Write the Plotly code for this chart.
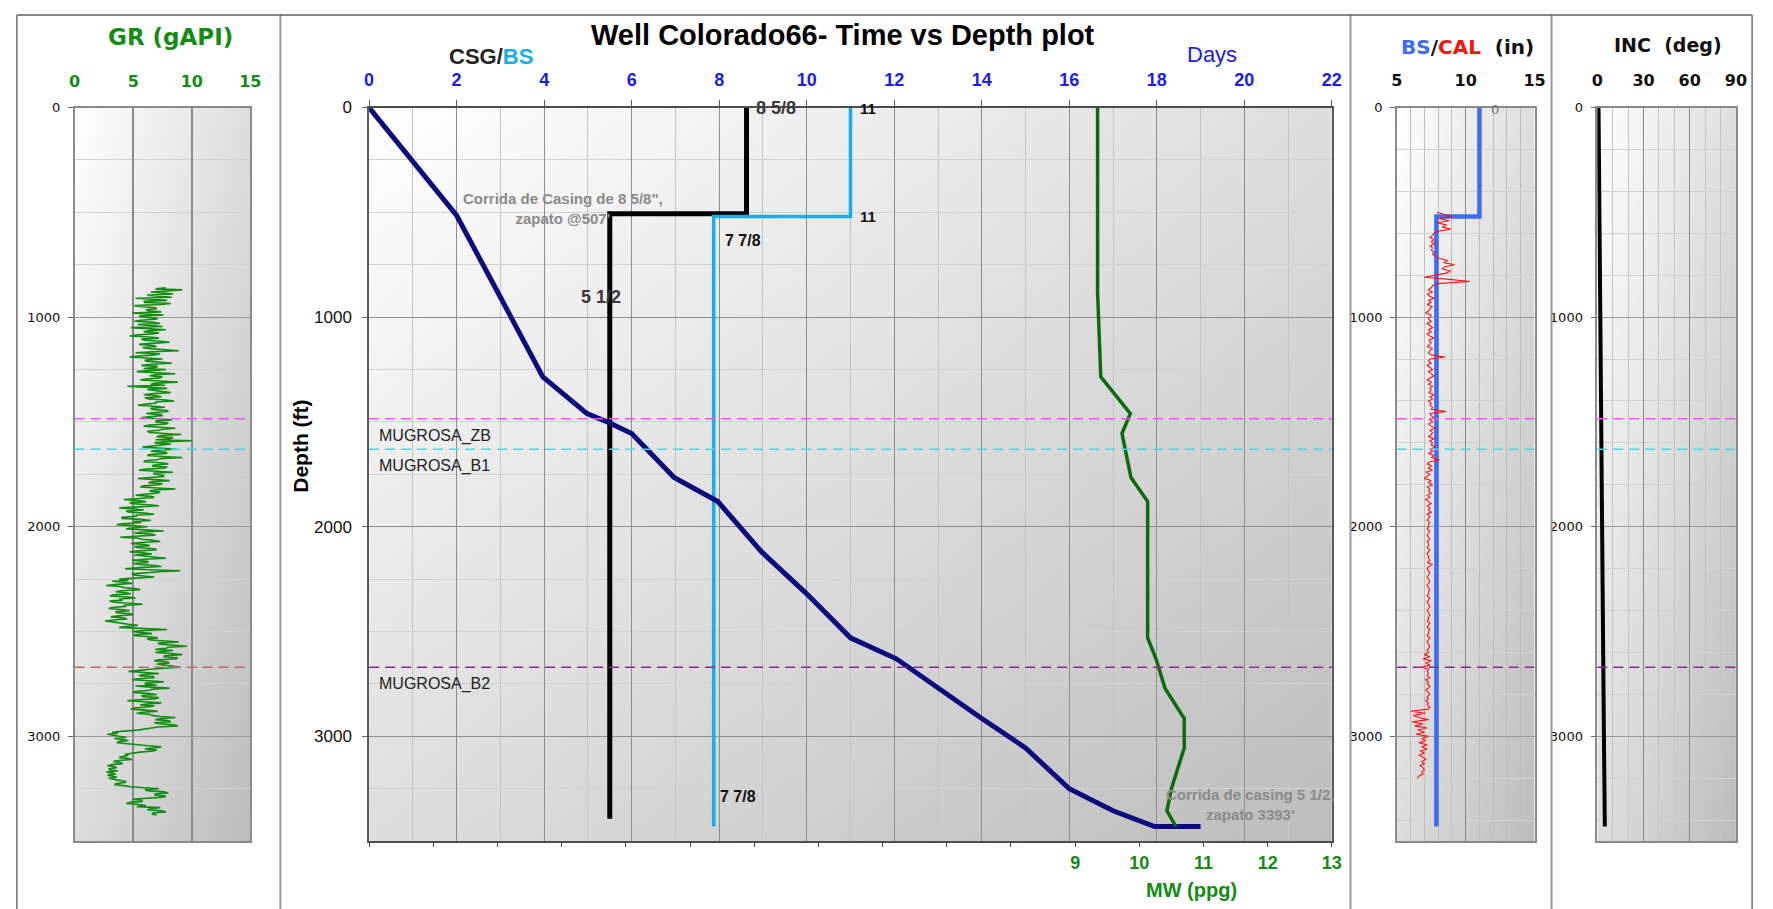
import base64
import plotly.graph_objects as go

FIG_W, FIG_H = 1773, 909

# ---------------- data ----------------
# Drilling progress: days on location vs measured depth
PROG_DEPTH_FT = [0, 515, 885, 1285, 1460, 1505, 1555, 1765, 1880, 2120, 2320,
                 2530, 2630, 2770, 2915, 3055, 3250, 3355, 3430, 3430]
PROG_DAYS = [0, 2.0, 2.95, 3.97, 4.98, 5.5, 6.0, 6.97, 7.97, 8.97, 10.0,
             11.0, 12.05, 13.0, 14.0, 15.0, 16.0, 17.0, 17.95, 19.0]

# Mud weight vs depth
MW_DEPTH_FT = [0, 515, 885, 1285, 1460, 1555, 1765, 1880, 2120, 2320,
               2530, 2630, 2770, 2915, 3055, 3250, 3355, 3430]
MW_PPG = [9.35, 9.35, 9.35, 9.40, 9.86, 9.73, 9.87, 10.13, 10.13, 10.13,
          10.13, 10.26, 10.40, 10.70, 10.70, 10.50, 10.43, 10.57]

# Casing and bit size programme (inches)
CSG_DEPTH_FT = [0, 507, 507, 3393]
CSG_IN = [8.625, 8.625, 5.5, 5.5]
BS_DEPTH_FT = [0, 520, 520, 3430]
BS_IN = [11, 11, 7.875, 7.875]

# Size labels on the casing / bit size curves
CSG_LABEL_TEXT = ["8 5/8", "5 1/2"]
CSG_LABEL_X = [9.29, 5.30]
CSG_LABEL_DEPTH = [3, 905]
BS_LABEL_TEXT = ["11", "11", "7 7/8", "7 7/8"]
BS_LABEL_X = [11.39, 11.39, 8.55, 8.43]
BS_LABEL_DEPTH = [3, 522, 636, 3285]

# Formation tops
TOP_NAMES = ["MUGROSA_ZB", "MUGROSA_B1", "MUGROSA_B2"]
TOP_DEPTH_FT = [1485, 1630, 2670]

# Inclination survey
INC_DEPTH_FT = [0, 500, 1000, 1500, 2000, 2500, 3000, 3430]
INC_DEG = [0.8, 1.5, 2.1, 2.7, 3.2, 3.7, 4.3, 4.9]

# Gamma ray log, 5 ft sampling from GR_TOP_FT
GR_TOP_FT = 860
GR_STEP_FT = 5
GR_API = [
    7.8, 6.9, 9.2, 8.0, 6.5, 7.7, 8.4, 6.2, 7.1, 8.3,
    5.2, 6.6, 7.9, 5.9, 6.0, 8.2, 7.4, 5.1, 5.6, 6.9, 7.0, 6.1,
    6.3, 7.4, 4.9, 6.0, 7.6, 5.5, 5.8, 7.1,
    6.9, 5.6, 5.1, 6.8, 7.3, 5.4, 6.2, 7.5, 4.8, 6.1, 7.8, 6.3,
    5.9, 7.2, 6.6, 5.2, 4.7, 6.4, 7.2, 5.7, 6.0, 7.4, 8.1, 6.5,
    5.5, 6.7, 7.0, 5.8, 6.3, 7.6, 8.9, 6.6, 5.2, 7.3, 6.8, 5.6, 4.7, 6.2, 7.5, 6.0,
    6.1, 7.4, 8.3, 6.5, 5.7, 7.1, 6.9, 5.9, 7.8, 6.4, 5.3, 7.0, 8.6, 6.8, 6.4, 7.5,
    7.2, 6.1, 5.6, 7.3, 8.8, 6.9, 6.5, 7.7, 4.5, 6.3, 7.9, 6.2, 6.8, 7.6, 8.2, 6.7,
    5.9, 7.0, 7.4, 6.0, 6.3, 7.8, 8.5, 6.9, 7.0, 6.1, 5.4, 6.8, 7.7, 6.5, 6.6, 7.9,
    8.0, 6.9, 6.1, 7.4, 7.5, 6.3, 5.7, 7.2, 8.3, 7.0, 6.9, 8.0, 7.8, 6.4, 5.9, 7.3,
    8.6, 7.5, 7.2, 6.2, 6.4, 7.7, 9.1, 7.4, 7.0, 8.4, 8.1, 6.9, 10.0, 7.6, 6.8, 8.2,
    7.4, 6.5, 5.8, 7.2, 8.7, 7.0, 6.5, 7.8, 7.9, 6.4, 6.2, 7.5, 9.2, 7.3, 7.1,
    6.0, 5.9, 7.4, 8.0, 6.8, 6.6, 7.9, 7.7, 6.1, 5.5, 7.0, 8.4, 6.7, 6.9, 7.6,
    7.6, 6.4, 5.4, 6.9, 8.1, 6.6, 6.3, 7.5, 7.2, 5.9, 5.6,
    7.1, 8.6, 6.8, 6.4, 7.3, 7.0, 5.8, 5.2, 6.5, 6.8, 5.5,
    4.2, 5.4, 6.1, 4.7, 5.0, 6.3, 7.2, 5.5, 3.8, 5.1, 5.9, 4.4, 4.6,
    6.0, 6.8, 5.2, 5.3, 4.0, 4.1, 5.7, 6.5, 5.0, 5.7, 4.3, 3.6, 5.2,
    6.2, 5.0, 4.4, 6.1, 7.6, 5.8, 5.1, 6.5, 6.9, 5.2, 3.9,
    5.4, 5.8, 6.7, 7.3, 5.6, 4.8, 6.0, 6.4, 5.1, 5.5, 6.8,
    7.0, 5.6, 4.7, 6.0, 6.6, 5.1, 5.9, 7.1, 7.8, 6.0, 4.9, 6.2, 6.3, 5.0, 5.6,
    6.9, 7.4, 5.5, 4.3, 6.4, 9.0, 7.2, 6.1, 4.9, 5.0, 6.3, 6.8, 5.2, 3.8, 4.6,
    3.2, 4.3, 4.9, 3.6, 2.7, 3.9, 4.2, 5.1, 5.6, 4.0, 3.5, 4.4, 4.8, 3.3,
    3.0, 4.6, 5.2, 3.8, 4.1, 3.0, 3.4, 4.7, 5.8, 4.2, 4.4, 3.2, 2.9, 4.0,
    4.7, 3.5, 3.6, 4.8, 5.0, 3.7, 3.1, 4.2, 4.5, 3.3, 2.6, 3.4, 3.9, 4.6,
    5.4, 4.2, 3.8, 5.6, 7.9, 6.0, 4.9, 5.8, 6.6, 5.0, 5.2, 6.4, 7.1, 6.2,
    6.5, 7.8, 8.9, 7.1, 7.3, 8.5, 9.6, 8.0, 7.8, 6.9, 8.4, 7.5,
    6.9, 8.2, 9.2, 7.7, 7.6, 8.8, 8.7, 7.2, 6.8, 7.9, 8.1, 7.0,
    7.5, 8.3, 9.0, 7.2, 6.4, 5.6,
    4.6, 6.0, 7.2, 5.8, 5.5, 6.7, 6.8, 5.4, 4.9, 6.3, 7.6,
    6.1, 6.0, 7.0, 5.2, 6.5, 8.1, 6.6, 6.4, 5.3, 5.0, 6.2,
    7.0, 5.7, 5.8, 7.2, 6.9, 5.5, 4.5, 5.9, 7.4, 6.3, 5.6,
    6.8, 6.2, 5.1, 4.8, 6.0, 7.1, 5.9, 5.3, 6.4, 6.6, 7.3,
    8.6, 7.4, 6.9, 8.0, 8.2, 6.8, 7.3, 8.5, 8.8, 7.1, 6.5, 5.9, 5.4, 4.2,
    3.2, 3.7, 2.8, 3.3, 3.9, 4.4, 3.4, 4.0, 4.6, 3.8, 3.6, 4.5,
    5.2, 6.3, 7.4, 6.5, 6.0, 7.0, 6.7, 5.6, 5.1, 4.3,
    4.6, 4.0, 3.8, 4.5, 4.9, 3.7, 3.3, 3.9, 4.1, 3.2, 2.8, 3.4, 3.6, 2.9, 3.0, 3.7,
    2.7, 3.2, 3.5, 2.8, 3.1, 3.6, 2.9, 3.3, 3.8, 4.4, 4.3, 3.6, 3.4, 4.2, 4.8, 5.9,
    7.2, 6.0, 6.3, 7.6, 8.0, 6.9, 6.8, 7.8, 7.5, 6.2,
    4.9, 5.7, 5.8, 4.8, 4.4, 5.5, 6.1, 5.3,
    7.3, 6.5, 6.2, 7.4, 7.8, 6.7, 6.6, 7.0,
]

# Caliper log, 10 ft sampling from CAL_TOP_FT
CAL_TOP_FT = 500
CAL_STEP_FT = 10
CAL_IN = [
    7.9,
    8.4, 9.0, 8.1, 8.8, 7.9, 8.6, 8.3, 8.9, 8.0, 7.7,
    7.6, 7.4, 7.7, 7.5, 7.8, 7.4, 7.6, 7.5, 7.7, 7.6,
    7.8, 8.1, 8.7, 8.4, 9.2, 8.5, 8.3, 8.9, 8.6, 7.9, 7.0, 8.8, 10.3, 7.9, 7.6,
    7.5, 7.3, 7.6, 7.2, 7.4, 7.7, 7.3, 7.5, 7.2, 7.6, 7.4, 7.3, 7.1, 7.5, 7.4,
    7.3, 7.5, 7.2, 7.4, 7.6, 7.3, 7.5, 7.2, 7.4, 7.7, 7.3, 7.5, 7.4, 7.2, 7.6,
    7.4, 7.3, 7.5, 8.5, 7.4,
    7.3, 7.5, 7.2, 7.4, 7.6, 7.3, 7.5, 7.7, 7.4, 7.2, 7.5, 7.3, 7.6, 7.4, 7.5,
    7.3, 7.7, 7.4, 7.6, 7.3, 7.5, 7.4, 7.6, 7.5, 8.6, 7.4,
    7.5, 7.7, 7.4, 7.6, 7.3, 7.5, 7.8, 7.4, 7.6, 7.5, 7.3, 7.7, 7.4, 7.6, 7.5,
    7.8, 7.4, 7.6, 7.3, 7.7, 7.5, 8.1,
    7.4, 7.2, 7.5, 7.3, 7.6, 7.1, 7.4, 7.2, 7.0, 7.5, 7.3, 7.6, 7.2, 7.4, 7.3,
    7.5, 7.2, 7.4, 7.1, 7.3, 7.5, 7.2, 7.4, 7.3, 7.5, 7.2, 7.4, 7.3, 7.2, 7.4, 7.3,
    7.3, 7.2, 7.4, 7.3, 7.2, 7.3, 7.4, 7.2, 7.3, 7.3, 7.2, 7.4, 7.3, 7.2, 7.3,
    7.3, 7.4, 7.2, 7.6, 7.3, 7.2, 7.3, 7.4, 7.3, 7.2, 7.3, 7.4, 7.3, 7.2, 7.3,
    7.4, 7.3, 7.3, 7.2, 7.4, 7.3, 7.2, 7.3, 7.4, 7.3, 7.2, 7.3, 7.4, 7.3, 7.3,
    7.2, 7.4, 7.3, 7.2, 7.4, 7.3, 7.3, 7.2, 7.4, 7.3, 7.2, 7.3, 7.4, 7.3, 7.2, 7.3,
    7.0, 7.4, 6.9, 7.5, 7.1, 7.4, 6.8, 7.3, 7.2,
    7.3, 7.2, 7.4, 7.1, 7.3, 7.2, 7.4, 7.3, 7.1, 7.3, 7.4, 7.2, 7.3, 7.1, 7.3,
    7.2, 7.4, 7.3,
    6.0, 7.1, 6.2, 6.6, 7.3, 6.1, 6.9, 6.3, 7.2, 6.5, 7.0, 6.4, 7.3, 6.8, 7.1,
    6.6, 7.2,
    6.8, 7.2, 6.7, 7.0, 6.6, 6.9, 7.1, 6.8, 7.0, 6.7, 6.9, 7.0, 6.8, 6.9, 6.6, 6.5,
]

DEPTH_RANGE = [3500, 0]
DEPTH_TICKS = [0, 1000, 2000, 3000]
DAYS_TICKS = list(range(0, 23, 2))
MW_TICKS = list(range(-2, 14))
MW_LABELLED = [9, 10, 11, 12, 13]
GR_TICKS = [0, 5, 10, 15]
CAL_TICKS = [5, 10, 15]
INC_TICKS = [0, 30, 60, 90]

gr_depth = [GR_TOP_FT + i * GR_STEP_FT for i in range(len(GR_API))]
cal_depth = [CAL_TOP_FT + i * CAL_STEP_FT for i in range(len(CAL_IN))]

# ---------------- styling ----------------
MAIN_FONT = "Liberation Sans, Arial, sans-serif"
LOG_FONT = "DejaVu Sans, Verdana, sans-serif"
GR_GREEN = "#138c13"
MW_GREEN = "#0d6b0d"
DAYS_BLUE = "#1c1cf0"
BS_CYAN = "#18aee8"
TOP_COLORS = ["#ee55ee", "#33e3e3", "#8e2a8e"]
GR_TOP_COLORS = ["#ee55ee", "#33e3e3", "#b86a6a"]


def px(x):
    return x / FIG_W


def py(y):
    return 1 - y / FIG_H


PLOT_TOP, PLOT_BOTTOM = 99.5, 840.5
Y_DOMAIN = [py(PLOT_BOTTOM), py(PLOT_TOP)]
PANELS = {
    "gr": (69.3, 246.7),
    "main": (366.6, 1338.7),
    "cal": (1404.3, 1543.3),
    "inc": (1606.7, 1746.7),
}


def gradient_uri():
    svg = (
        '<svg xmlns="http://www.w3.org/2000/svg" width="100" height="100" '
        'viewBox="0 0 100 100" preserveAspectRatio="none">'
        '<defs><linearGradient id="g" x1="0" y1="0" x2="1" y2="1">'
        '<stop offset="0" stop-color="#ffffff"/>'
        '<stop offset="1" stop-color="#bcbcbc"/>'
        '</linearGradient></defs>'
        '<rect width="100" height="100" fill="url(#g)"/></svg>'
    )
    return "data:image/svg+xml;base64," + base64.b64encode(svg.encode()).decode()


def depth_axis(anchor, minor_dtick, tickfont, standoff, line_color="#8c8c8c"):
    return dict(
        domain=Y_DOMAIN, anchor=anchor, range=DEPTH_RANGE,
        tickvals=DEPTH_TICKS, showgrid=True, gridcolor="#9a9a9a", gridwidth=1,
        minor=dict(dtick=minor_dtick, tick0=0, showgrid=True,
                   gridcolor="#d2d2d2", gridwidth=1),
        ticks="outside", ticklen=5, tickcolor="#666",
        tickfont=tickfont, ticklabelstandoff=standoff,
        showline=True, mirror=True, linecolor=line_color, linewidth=1.5,
        zeroline=False,
    )


fig = go.Figure()

# Gamma ray track
fig.add_trace(go.Scatter(x=GR_API, y=gr_depth, xaxis="x", yaxis="y",
                         mode="lines", line=dict(color=GR_GREEN, width=1.6)))

# Time vs depth track
fig.add_trace(go.Scatter(x=CSG_IN, y=CSG_DEPTH_FT, xaxis="x2", yaxis="y2",
                         mode="lines", line=dict(color="#000000", width=5)))
fig.add_trace(go.Scatter(x=BS_IN, y=BS_DEPTH_FT, xaxis="x2", yaxis="y2",
                         mode="lines", line=dict(color=BS_CYAN, width=3.5)))
fig.add_trace(go.Scatter(x=PROG_DAYS, y=PROG_DEPTH_FT, xaxis="x2", yaxis="y2",
                         mode="lines", line=dict(color="#0c0c7e", width=5)))
fig.add_trace(go.Scatter(x=MW_PPG, y=MW_DEPTH_FT, xaxis="x3", yaxis="y2",
                         mode="lines", line=dict(color=MW_GREEN, width=3.5)))

# Bit size / caliper track
fig.add_trace(go.Scatter(x=BS_IN, y=BS_DEPTH_FT, xaxis="x4", yaxis="y4",
                         mode="lines", line=dict(color="#3d6cf5", width=4.5)))
fig.add_trace(go.Scatter(x=CAL_IN, y=cal_depth, xaxis="x4", yaxis="y4",
                         mode="lines", line=dict(color="#ff1010", width=1.1)))

# Inclination track
fig.add_trace(go.Scatter(x=INC_DEG, y=INC_DEPTH_FT, xaxis="x5", yaxis="y5",
                         mode="lines", line=dict(color="#000000", width=4)))

log_tick_font = dict(family=LOG_FONT, size=13, color="#111")
log_top_font = dict(family=LOG_FONT, size=16, color="#111", weight="bold")

fig.update_layout(
    width=FIG_W, height=FIG_H,
    margin=dict(l=0, r=0, t=0, b=0),
    paper_bgcolor="white", plot_bgcolor="white",
    showlegend=False,
    xaxis=dict(
        domain=[px(PANELS["gr"][0]), px(PANELS["gr"][1])], anchor="y",
        side="top", range=[0, 15], tickvals=GR_TICKS,
        showgrid=True, gridcolor="#8a8a8a", gridwidth=1.5, ticks="",
        tickfont=dict(family=LOG_FONT, size=16, color=GR_GREEN, weight="bold"),
        ticklabelstandoff=12,
        showline=True, mirror=True, linecolor="#8a8a8a", linewidth=1.5,
        zeroline=False,
    ),
    yaxis=depth_axis("x", 250, log_tick_font, 5),
    xaxis2=dict(
        domain=[px(PANELS["main"][0]), px(PANELS["main"][1])], anchor="y2",
        side="top", range=[0, 22], tickvals=DAYS_TICKS,
        showgrid=True, gridcolor="#8e8e8e", gridwidth=1,
        minor=dict(dtick=1, tick0=0, showgrid=True, gridcolor="#c4c4c4"),
        ticks="outside", ticklen=6, tickcolor="#555",
        tickfont=dict(family=MAIN_FONT, size=18, color=DAYS_BLUE, weight="bold"),
        ticklabelstandoff=6,
        showline=True, mirror=True, linecolor="#4d4d4d", linewidth=2,
        zeroline=False,
    ),
    xaxis3=dict(
        overlaying="x2", anchor="y2", side="bottom", range=[-2, 13],
        tickvals=MW_TICKS,
        ticktext=[str(v) if v in MW_LABELLED else "" for v in MW_TICKS],
        showgrid=False, ticks="outside", ticklen=5, tickcolor="#444",
        tickfont=dict(family=MAIN_FONT, size=18, color=GR_GREEN, weight="bold"),
        ticklabelstandoff=0, showline=False, zeroline=False,
    ),
    yaxis2=dict(
        depth_axis("x2", 250, dict(family=MAIN_FONT, size=17, color="#111"), 7,
                   line_color="#5a5a5a"),
        gridcolor="#8e8e8e",
    ),
    xaxis4=dict(
        domain=[px(PANELS["cal"][0]), px(PANELS["cal"][1])], anchor="y4",
        side="top", range=[5, 15], tickvals=CAL_TICKS,
        showgrid=True, gridcolor="#8a8a8a", gridwidth=1.2,
        minor=dict(dtick=1, tick0=5, showgrid=True, gridcolor="#bdbdbd"),
        ticks="", tickfont=log_top_font, ticklabelstandoff=13,
        showline=True, mirror=True, linecolor="#8a8a8a", linewidth=1.5,
        zeroline=False,
    ),
    yaxis4=depth_axis("x4", 200, log_tick_font, 5),
    xaxis5=dict(
        domain=[px(PANELS["inc"][0]), px(PANELS["inc"][1])], anchor="y5",
        side="top", range=[0, 90], tickvals=INC_TICKS,
        showgrid=True, gridcolor="#8a8a8a", gridwidth=1.2,
        minor=dict(dtick=10, tick0=0, showgrid=True, gridcolor="#c4c4c4"),
        ticks="", tickfont=log_top_font, ticklabelstandoff=13,
        showline=True, mirror=True, linecolor="#8a8a8a", linewidth=1.5,
        zeroline=False,
    ),
    yaxis5=depth_axis("x5", 200, log_tick_font, 5),
)

# Shaded panel backgrounds
uri = gradient_uri()
images = []
for x0, x1 in PANELS.values():
    images.append(dict(
        source=uri, xref="paper", yref="paper",
        x=px(x0), y=py(PLOT_TOP), sizex=px(x1) - px(x0),
        sizey=py(PLOT_TOP) - py(PLOT_BOTTOM),
        xanchor="left", yanchor="top", sizing="stretch", layer="below",
    ))
fig.update_layout(images=images)

# Formation top markers in every track
track_refs = [("x domain", "y", GR_TOP_COLORS), ("x2 domain", "y2", TOP_COLORS),
              ("x4 domain", "y4", TOP_COLORS), ("x5 domain", "y5", TOP_COLORS)]
for xref, yref, colors in track_refs:
    for depth, color in zip(TOP_DEPTH_FT, colors):
        fig.add_shape(type="line", xref=xref, yref=yref, x0=0, x1=1,
                      y0=depth, y1=depth,
                      line=dict(color=color, width=1.5, dash="10px,6px"))

for name, depth in zip(TOP_NAMES, TOP_DEPTH_FT):
    fig.add_annotation(text=name, xref="paper", yref="y2", x=px(375), y=depth,
                       xanchor="left", yanchor="top", yshift=-6, showarrow=False,
                       font=dict(family=MAIN_FONT, size=16, color="#222"))

# Track separators and outer frame
for xs in (277, 1357.5, 1560.5):
    fig.add_shape(type="line", xref="paper", yref="paper", x0=px(xs), x1=px(xs),
                  y0=py(6), y1=0, line=dict(color="#9a9a9a", width=2))
fig.add_shape(type="line", xref="paper", yref="paper", x0=px(11), x1=px(1763),
              y0=py(6), y1=py(6), line=dict(color="#606060", width=1.5))
for xs in (11, 1763):
    fig.add_shape(type="line", xref="paper", yref="paper", x0=px(xs), x1=px(xs),
                  y0=py(6), y1=0, line=dict(color="#707070", width=1.5))

# Size labels
for text, x, d in zip(CSG_LABEL_TEXT, CSG_LABEL_X, CSG_LABEL_DEPTH):
    fig.add_annotation(text=f"<b>{text}</b>", xref="x2", yref="y2", x=x, y=d,
                       showarrow=False,
                       font=dict(family=MAIN_FONT, size=18, color="#3a3a3a"))
for text, x, d in zip(BS_LABEL_TEXT, BS_LABEL_X, BS_LABEL_DEPTH):
    size = 15 if text == "11" else 16
    fig.add_annotation(text=f"<b>{text}</b>", xref="x2", yref="y2", x=x, y=d,
                       showarrow=False,
                       font=dict(family=MAIN_FONT, size=size, color="#111"))

# Casing run notes
fig.add_annotation(text="<b>Corrida de Casing de 8 5/8\",<br>zapato @507'</b>",
                   xref="x2", yref="y2", x=4.43, y=484, showarrow=False,
                   align="center",
                   font=dict(family=MAIN_FONT, size=15, color="#8a8a8a"))
fig.add_annotation(text="<b>Corrida de casing 5 1/2,<br>zapato 3393'</b>",
                   xref="x2", yref="y2", x=20.13, y=3323, showarrow=False,
                   align="center",
                   font=dict(family=MAIN_FONT, size=15, color="#8a8a8a"))

# Cross-section marker on the caliper track
fig.add_annotation(text="0", xref="x4", yref="y4", x=12.1, y=8, showarrow=False,
                   font=dict(family=LOG_FONT, size=13, color="#777"))

# Titles
titles = [
    ("<b>Well Colorado66- Time vs Depth plot</b>", 845, 26, MAIN_FONT, 29, "#000", 0),
    ("<b><span style='color:#222'>CSG</span>/<span style='color:%s'>BS</span></b>" % BS_CYAN,
     490, 48, MAIN_FONT, 22, "#222", 0),
    ("Days", 1218, 46, MAIN_FONT, 22, DAYS_BLUE, 0),
    ("<b>MW (ppg)</b>", 1197, 890, MAIN_FONT, 20, GR_GREEN, 0),
    ("<b>Depth (ft)</b>", 297, 442, MAIN_FONT, 21, "#000", -90),
    ("<b>GR (gAPI)</b>", 166, 28, LOG_FONT, 23, GR_GREEN, 0),
    ("<b><span style='color:#3d6cf5'>BS</span>/<span style='color:#ff1010'>CAL</span>"
     "  (in)</b>", 1476, 38, LOG_FONT, 20, "#111", 0),
    ("<b>INC  (deg)</b>", 1678, 36, LOG_FONT, 19, "#111", 0),
]
for text, x, y, fam, size, color, angle in titles:
    fig.add_annotation(text=text, xref="paper", yref="paper", x=px(x), y=py(y),
                       xanchor="center", yanchor="middle", showarrow=False,
                       textangle=angle,
                       font=dict(family=fam, size=size, color=color))

fig.write_html("out.html")
